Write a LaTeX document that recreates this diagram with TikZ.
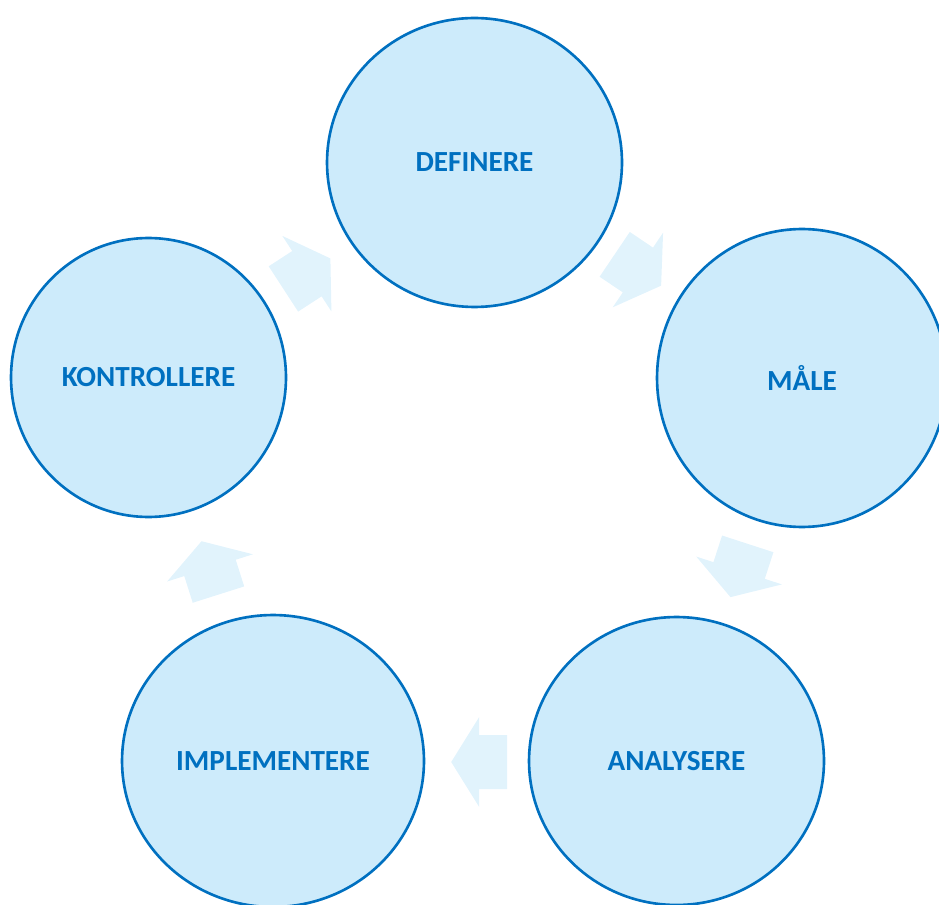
\documentclass[tikz,border=0pt]{standalone}
\usepackage{fontspec}
\setmainfont{Carlito}
\usetikzlibrary{shapes.geometric}
\definecolor{ringblue}{HTML}{0070C0}
\definecolor{ringfill}{HTML}{CDEBFB}
\definecolor{arrowfill}{HTML}{E1F3FC}
\tikzset{
  stage/.style={ellipse, draw=ringblue, line width=1.5pt, fill=ringfill,
    inner sep=0pt, text=ringblue, font=\fontsize{16.6}{19}\selectfont\bfseries},
  cyclearrow/.style={fill=arrowfill, draw=none},
}
\begin{document}
\begin{tikzpicture}[x=0.02cm,y=-0.02cm]
\useasboundingbox (0,0) rectangle (939,905);
\clip (0,0) rectangle (939,905);
% block arrows of the cycle
\foreach \cx/\cy/\ang in {306.9/273.7/33, 637.9/270/-34, 739.1/570.5/-108, 479.2/762/180, 210/567.9/107.6}
  \fill[cyclearrow, shift={(\cx,\cy)}, rotate=\ang]
    (-28,-27) -- (0,-27) -- (0,-45) -- (28,0) -- (0,45) -- (0,27) -- (-28,27) -- cycle;
% stages
\node[stage, minimum width=5.90cm, minimum height=5.78cm] (def) at (474.5,162.5) {DEFINERE};
\node[stage, minimum width=5.80cm, minimum height=5.96cm] (maale) at (802,378) {MÅLE};
\node[stage, minimum width=5.90cm, minimum height=5.76cm] (ana) at (676.5,761) {ANALYSERE};
\node[stage, minimum width=6.04cm, minimum height=5.84cm] (impl) at (273,761) {IMPLEMENTERE};
\node[stage, minimum width=5.50cm, minimum height=5.58cm] (kontr) at (148.5,377.5) {KONTROLLERE};
\end{tikzpicture}
\end{document}
